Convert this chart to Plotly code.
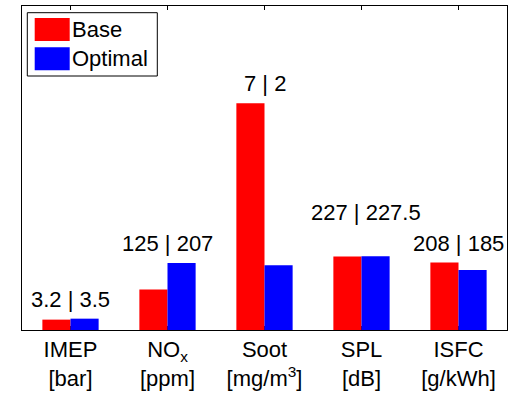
import plotly.graph_objects as go

categories = ["IMEP", "NOx", "Soot", "SPL", "ISFC"]
tick_labels = ["IMEP<br>[bar]", "NO<sub>x</sub><br>[ppm]", "Soot<br>[mg/m<sup>3</sup>]",
               "SPL<br>[dB]", "ISFC<br>[g/kWh]"]
base_values = [3.2, 125, 7, 227, 208]
optimal_values = [3.5, 207, 2, 227.5, 185]
scale_factors = [10, 100, 1, 100, 100]
series_names = ["Base", "Optimal"]
series_colors = ["#ff0000", "#0000ff"]

# label placement tweaks (pixels)
label_xshift = [0, 0, 0, 4, 0]
label_yshift = [5, 5, 5, 29, 5]

base_scaled = [v / s for v, s in zip(base_values, scale_factors)]
opt_scaled = [v / s for v, s in zip(optimal_values, scale_factors)]

FONT = "Liberation Sans, Arial, sans-serif"
FS = 22

fig = go.Figure()
for name, col, ys in zip(series_names, series_colors, [base_scaled, opt_scaled]):
    fig.add_trace(go.Bar(x=categories, y=ys, name=name, marker=dict(color=col, line=dict(width=0)),
                         showlegend=False))

# value labels
for c, b, o, bs, os_, dx, dy in zip(categories, base_values, optimal_values, base_scaled, opt_scaled,
                                   label_xshift, label_yshift):
    fig.add_annotation(x=c, y=max(bs, os_), text=f"{b:g} | {o:g}", showarrow=False,
                       yanchor="bottom", xanchor="center", xshift=dx, yshift=dy,
                       font=dict(family=FONT, size=FS, color="black"))

# custom legend (MATLAB style)
fig.add_shape(type="rect", xref="paper", yref="paper", xsizemode="pixel", ysizemode="pixel",
              xanchor=0, yanchor=1, x0=5.3, x1=135.3, y0=-6.7, y1=-70,
              line=dict(color="black", width=1), fillcolor="white", layer="above")
for i, (name, col) in enumerate(zip(series_names, series_colors)):
    top = -12 - i * 29.3
    fig.add_shape(type="rect", xref="paper", yref="paper", xsizemode="pixel", ysizemode="pixel",
                  xanchor=0, yanchor=1, x0=12.7, x1=47.7, y0=top, y1=top - 23,
                  line=dict(width=0), fillcolor=col, layer="above")
    fig.add_annotation(xref="paper", yref="paper", x=0, y=1, xshift=47.7, yshift=top - 11.5,
                       xanchor="left", yanchor="middle", text=name, showarrow=False,
                       font=dict(family=FONT, size=FS, color="black"))

fig.update_layout(
    width=520, height=405,
    margin=dict(l=22, r=13, t=6, b=75),
    paper_bgcolor="white", plot_bgcolor="white",
    barmode="group", bargap=0.42, bargroupgap=0,
    font=dict(family=FONT, size=FS, color="black"),
    xaxis=dict(type="category", tickvals=categories, ticktext=tick_labels,
               showline=True, linecolor="black", linewidth=1, mirror="ticks",
               ticks="inside", ticklen=4, tickcolor="black", tickwidth=1,
               layer="below traces", showgrid=False, zeroline=False,
               tickfont=dict(family=FONT, size=FS, color="black")),
    yaxis=dict(range=[0, 10], showline=True, linecolor="black", linewidth=1, mirror=True,
               ticks="", showticklabels=False, showgrid=False, zeroline=False),
)

fig.write_html("out.html")
